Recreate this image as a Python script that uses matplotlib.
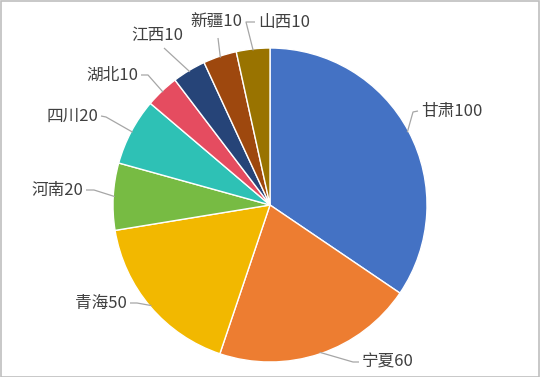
import matplotlib

matplotlib.use('Agg')

import matplotlib.pyplot as plt
import numpy as np
from matplotlib.patches import Rectangle

plt.rcParams['font.family'] = ['Noto Sans CJK SC', 'DejaVu Sans']

# 数据
provinces = ["甘肃", "宁夏", "青海", "河南", "四川", "湖北", "江西", "新疆", "山西"]
values = [100, 60, 50, 20, 20, 10, 10, 10, 10]
colors = ["#4472C4", "#ED7D31", "#F2B800", "#77BB43", "#2EC1B5",
          "#E54C60", "#264478", "#9E480E", "#997300"]

# 标签位置(像素, 以图片左上角为原点) -- 版式
label_pos = [(421, 111), (362, 362), (127, 303), (83, 190), (98, 116),
             (138, 75), (183, 35), (242, 22), (258, 22)]
label_ha = ["left", "left", "right", "right", "right", "right", "right", "right", "left"]
# 引导线拐点
elbow = [(413, 112), (353, 362), (137, 303), (94, 190), (106, 117),
         (148, 75), (164, 48), (218, 38), (246, 22)]
# 引导线是否接到文字侧边
to_side = [True, True, True, True, True, True, False, False, True]

W, H = 540, 377
cx, cy, R = 270, 205, 157


def main():
    fig = plt.figure(figsize=(5.4, 3.77), dpi=100)
    ax = fig.add_axes([0, 0, 1, 1])

    wedges, _ = ax.pie(values, colors=colors, startangle=90, counterclock=False,
                       center=(cx, H - cy), radius=R, frame=True,
                       wedgeprops=dict(edgecolor='white', linewidth=1.0))
    ax.set_xlim(0, W)
    ax.set_ylim(0, H)
    ax.axis('off')

    for i, w in enumerate(wedges):
        mid = np.deg2rad((w.theta1 + w.theta2) / 2)
        sx = cx + 0.99 * R * np.cos(mid)
        sy = (H - cy) + 0.99 * R * np.sin(mid)
        ex, ey = elbow[i]
        lx, ly = label_pos[i]
        xs, ys = [sx, ex], [sy, H - ey]
        if to_side[i]:
            tx = lx - 3 if label_ha[i] == "left" else lx + 3
            xs.append(tx)
            ys.append(H - ly)
        ax.plot(xs, ys, color="#A6A6A6", lw=0.9, solid_capstyle='butt')
        ax.text(lx, H - ly, "{}{}".format(provinces[i], values[i]), ha=label_ha[i],
                va='center', fontsize=12, color="#404040")

    fig.patches.append(Rectangle((0.5 / W, 0.5 / H), 1 - 1.5 / W, 1 - 1.5 / H,
                                 transform=fig.transFigure, fill=False,
                                 edgecolor="#BFBFBF", linewidth=1.2))
    fig.savefig("out.png", dpi=100, facecolor='white')


if __name__ == '__main__':
    main()
